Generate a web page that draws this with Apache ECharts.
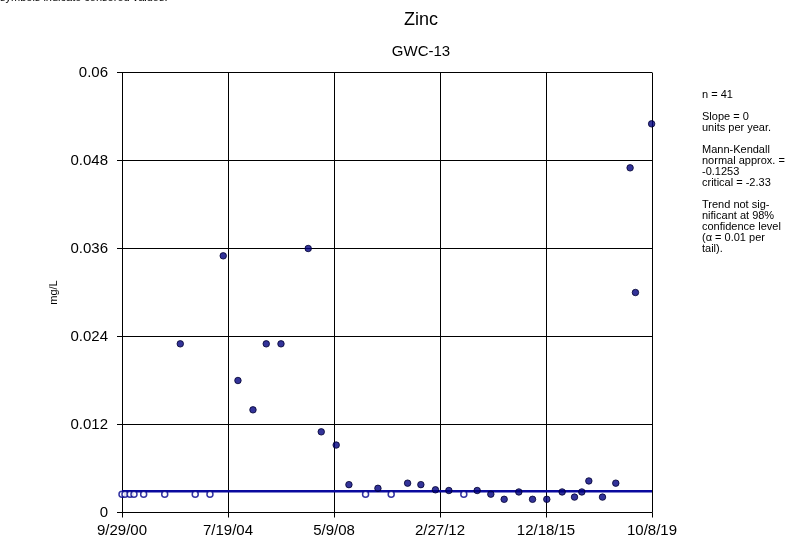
<!DOCTYPE html>
<html><head><meta charset="utf-8">
<script src="https://cdn.jsdelivr.net/npm/echarts@6/dist/echarts.min.js"></script>
<style>html,body{margin:0;padding:0;background:#fff}#c{width:798px;height:546px}</style>
</head><body><div id="c"></div>
<script>
// Detected (filled) samples
const detectedDates = ["2002-11-02","2004-05-18","2004-11-27","2005-06-12","2005-12-03","2006-06-14","2007-06-06","2007-11-24","2008-06-07","2008-11-21","2009-12-06","2010-12-30","2011-06-22","2011-12-30","2012-06-23","2013-06-29","2013-12-25","2014-06-18","2014-12-27","2015-06-25","2015-12-29","2016-07-17","2016-12-26","2017-04-01","2017-07-02","2017-12-28","2018-06-20","2018-12-25","2019-03-05","2019-10-03"];
const detectedValues = [0.023,0.035,0.018,0.014,0.023,0.023,0.036,0.011,0.0092,0.0038,0.0033,0.0040,0.0038,0.0031,0.0030,0.0030,0.0025,0.0018,0.0028,0.0018,0.0018,0.0028,0.0021,0.0028,0.0043,0.0021,0.0040,0.047,0.030,0.053];
// Censored (hollow) samples
const censoredDates = ["2000-09-29","2000-11-07","2001-01-12","2001-03-05","2001-07-10","2002-04-12","2003-05-17","2003-11-26","2009-06-27","2010-05-29","2013-01-05"];
const censoredValues = [0.0025,0.0025,0.0025,0.0025,0.0025,0.0025,0.0025,0.0025,0.0025,0.0025,0.0025];
// Trend line (Sen's slope = 0)
const trendDates = ["2000-09-29","2019-10-08"];
const trendValues = [0.0029,0.0029];
// Axes
const xStartDate = "2000-09-29";
const xEndDate = "2019-10-08";
const xTickCount = 5;
const yTicks = [0,0.012,0.024,0.036,0.048,0.06];
const statsLines = ["n = 41","","Slope = 0","units per year.","","Mann-Kendall","normal approx. =","-0.1253","critical = -2.33","","Trend not sig-","nificant at 98%","confidence level","(\u03b1 = 0.01 per","tail)."];

const DAY = 86400000;
const base = Date.parse(xStartDate + "T00:00:00Z");
const toDay = s => (Date.parse(s + "T00:00:00Z") - base) / DAY;
const xMax = toDay(xEndDate);
const fmt = v => { const d = new Date(base + Math.floor(v + 1e-6) * DAY); return (d.getUTCMonth()+1) + "/" + d.getUTCDate() + "/" + String(d.getUTCFullYear()).slice(2); };

const font = "Liberation Sans, Arial, sans-serif";
const chart = echarts.init(document.getElementById('c'));
const graphics = [
  {type:'text', left:0, top:-8, style:{text:'symbols indicate censored values.', font:'11px ' + font, fill:'#000'}},
  {type:'text', x:421, y:11, style:{text:'Zinc', font:'18px ' + font, fill:'#000', textAlign:'center'}},
  {type:'text', x:421, y:44, style:{text:'GWC-13', font:'15px ' + font, fill:'#000', textAlign:'center'}},
];
statsLines.forEach((t,i) => { if (t) graphics.push({type:'text', x:702, y:89 + i*11, style:{text:t, font:'11px ' + font, fill:'#000'}}); });

chart.setOption({
  animation:false,
  backgroundColor:'#fff',
  textStyle:{fontFamily:font},
  graphic: graphics,
  grid:{left:122, right:146, top:72.5, bottom:33.5, show:false},
  xAxis:{type:'value', min:0, max:xMax, interval:xMax/xTickCount,
    axisLine:{show:true, onZero:false, lineStyle:{color:'#000', width:1}},
    axisTick:{show:true, length:5, lineStyle:{color:'#000'}},
    splitLine:{show:true, lineStyle:{color:'#000', width:1}},
    axisLabel:{formatter:fmt, color:'#000', fontSize:15, margin:11, fontFamily:font, showMaxLabel:true, showMinLabel:true}},
  yAxis:{type:'value', min:yTicks[0], max:yTicks[yTicks.length-1], interval:yTicks[1]-yTicks[0],
    name:'mg/L', nameLocation:'middle', nameGap:62, nameTextStyle:{color:'#000', fontSize:11, fontFamily:font},
    axisLine:{show:true, lineStyle:{color:'#000', width:1}},
    axisTick:{show:true, length:5, lineStyle:{color:'#000'}},
    splitLine:{show:true, lineStyle:{color:'#000', width:1}},
    axisLabel:{color:'#000', fontSize:15, margin:14, fontFamily:font}},
  series:[
    {type:'line', data:trendDates.map((d,i)=>[toDay(d), trendValues[i]]), symbol:'none', lineStyle:{color:'#0a0a9e', width:2.5}, z:2},
    {type:'scatter', data:censoredDates.map((d,i)=>[toDay(d), censoredValues[i]]), symbol:'circle', symbolSize:6, itemStyle:{color:'#fff', borderColor:'#00008b', borderWidth:1.5}, z:3},
    {type:'scatter', data:detectedDates.map((d,i)=>[toDay(d), detectedValues[i]]), symbol:'circle', symbolSize:6.5, itemStyle:{color:'#000080', borderColor:'#000030', borderWidth:1}, z:4}
  ]
});
</script></body></html>
